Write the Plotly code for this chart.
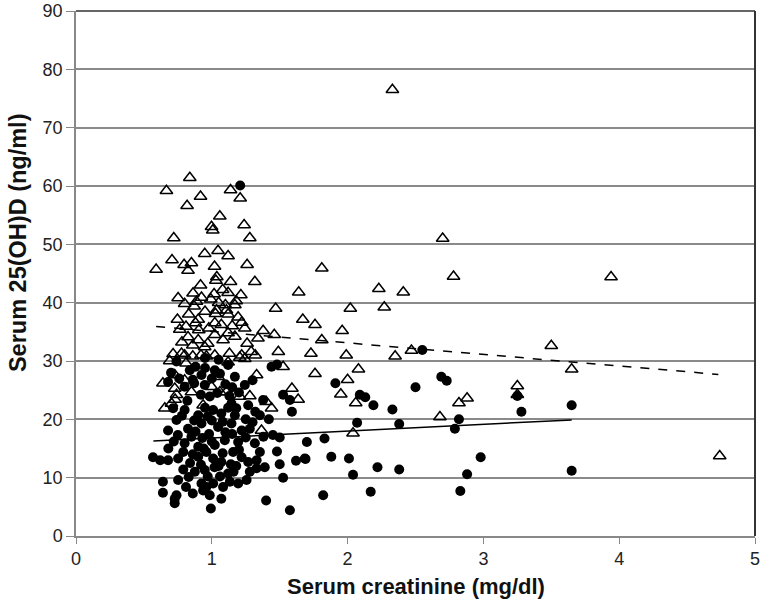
import plotly.graph_objects as go

# Open triangles
tri_x = [0.838,0.666,0.917,0.818,1.138,1.209,1.059,0.998,1.007,1.238,0.72,1.28,1.046,0.948,1.12,0.707,0.85,0.796,0.59,1.02,1.26,0.825,1.03,1.037,1.138,1.317,0.917,1.64,0.862,1.017,1.12,1.214,0.752,0.924,0.887,0.993,1.18,0.80,0.87,1.10,1.17,1.47,1.035,1.108,1.027,1.12,0.747,0.90,1.194,1.67,1.022,1.07,1.22,0.81,0.764,0.904,0.978,1.243,1.17,1.378,1.46,1.022,0.825,0.90,1.083,1.34,1.76,1.29,1.49,1.73,0.715,0.777,0.948,1.022,1.13,1.22,0.86,0.80,0.86,0.92,0.96,1.206,1.243,1.525,1.76,1.33,0.727,0.80,1.046,0.727,0.85,0.998,1.06,0.74,1.206,1.59,1.636,1.40,1.44,0.654,0.703,0.936,1.366,0.81,1.108,0.73,
         0.95,1.05,1.15,0.88,0.97,1.12,1.26,0.83,1.08,0.78,1.32,1.12,0.69,0.64,1.28,
         2.33,2.70,1.81,2.78,3.94,2.23,2.41,2.02,2.27,1.96,1.81,1.99,2.35,2.47,3.50,3.65,2.08,2.00,1.95,2.06,2.82,2.88,2.68,3.25,3.25,2.04,4.74]
tri_y = [61.4,59.2,58.2,56.6,59.3,57.9,54.8,53.0,52.4,53.3,51.1,51.1,48.9,48.4,48.0,47.3,46.8,46.5,45.7,46.2,46.5,45.5,43.8,44.4,43.6,43.6,43.0,41.8,41.6,41.5,41.7,41.3,40.8,40.9,40.2,40.6,40.3,39.8,39.4,39.6,39.6,39.0,38.7,38.7,38.1,38.0,37.1,37.1,37.5,37.1,36.5,36.2,36.6,35.9,35.4,35.3,35.6,35.6,34.2,35.2,34.5,34.5,34.1,33.6,33.6,33.9,36.2,31.6,31.6,31.3,31.2,31.3,32.4,31.0,31.3,31.0,32.7,31.0,30.8,31.0,30.8,30.6,30.4,29.0,27.8,27.6,27.6,26.7,27.3,25.3,24.7,25.6,24.7,24.2,23.9,25.3,23.4,23.0,21.9,21.9,22.7,22.4,18.1,29.6,24.7,23.4,
         38.5,40.0,36.0,36.5,33.0,34.8,33.0,38.0,42.2,33.2,31.0,29.8,30.0,26.2,24.0,
         76.5,51.0,45.9,44.5,44.4,42.4,41.8,39.0,39.2,35.2,33.6,31.0,30.8,31.8,32.6,28.6,28.6,26.8,24.3,22.8,22.8,23.6,20.4,25.7,24.2,17.6,13.7]

# Filled circles
cir_x = [1.209,2.55,2.69,2.73,2.50,1.91,2.09,2.13,2.19,2.33,3.65,3.25,3.28,2.07,2.38,2.82,2.79,1.70,1.83,1.69,1.88,2.01,2.04,2.22,2.38,2.98,2.88,3.65,1.82,2.17,2.83,
         0.74,1.44,1.48,0.678,0.838,0.924,1.022,1.12,1.17,1.243,1.30,0.948,0.80,1.525,1.575,1.59,1.378,1.354,0.985,1.145,1.268,0.715,0.80,0.90,1.01,1.17,0.74,0.678,0.825,0.924,1.046,1.145,1.22,1.28,1.45,1.50,0.80,0.90,1.022,1.096,1.194,1.317,
         0.567,0.678,0.752,0.79,0.90,0.96,1.01,1.07,1.157,1.268,1.33,1.354,1.39,1.33,0.79,0.875,0.948,1.12,1.50,1.525,1.62,1.685,0.64,0.64,0.752,0.81,0.86,0.924,0.936,0.985,1.01,1.07,1.083,1.133,1.194,1.256,0.727,0.727,0.74,0.993,1.40,1.575,
         0.95,1.05,0.88,1.00,1.10,0.87,1.04,1.13,0.95,1.07,0.87,0.98,1.10,0.85,1.20,0.93,1.05,1.18,0.97,1.28,0.84,1.00,1.25,1.12,
         0.70,0.76,0.86,0.95,1.06,1.15,1.20,0.92,0.82,0.78,0.97,1.08,1.18,1.32,0.88,1.00,1.15,1.25,0.94,1.08,0.86,1.22,1.02,1.14,0.92,0.83,1.06,0.96,1.16,0.72,0.68,0.75,1.38,1.30,1.42,1.48,0.62]
cir_y = [60.1,31.9,27.3,26.6,25.5,26.2,24.2,23.8,22.4,21.7,22.4,24.0,21.3,19.4,19.2,20.0,18.4,16.1,16.7,13.2,13.6,13.3,10.5,11.8,11.4,13.5,10.6,11.2,7.0,7.6,7.7,
         29.9,29.0,29.4,26.4,28.4,27.6,28.4,29.3,27.3,25.9,26.7,25.9,25.6,24.2,23.3,21.3,23.3,20.7,23.9,22.7,22.4,21.9,21.6,20.7,21.6,20.7,19.9,18.1,18.4,19.3,18.7,19.3,18.1,18.4,17.3,16.9,15.9,15.3,15.6,16.4,16.1,15.9,
         13.5,13.0,13.3,14.4,13.6,14.4,13.3,12.7,14.4,12.7,13.0,14.4,11.8,11.6,11.4,11.0,11.3,10.7,12.3,10.0,12.9,13.3,9.3,7.4,9.6,8.4,7.3,9.0,7.8,7.0,9.0,6.4,8.4,9.3,9.0,9.6,6.4,5.6,7.0,4.7,6.1,4.4,
         30.5,30.2,29.0,27.0,26.0,26.2,24.5,24.0,22.0,21.0,19.8,17.5,17.8,17.0,14.8,16.8,12.0,12.0,10.2,11.0,12.5,19.8,20.0,22.0,
         28.0,27.0,26.8,28.8,27.8,25.5,24.6,24.2,23.2,20.6,20.5,19.6,21.9,21.3,17.9,16.2,17.5,16.9,15.0,14.2,14.0,13.5,11.8,12.3,12.2,10.1,10.2,8.4,11.0,16.2,15.0,17.3,17.0,19.5,20.0,14.5,13.0]

# Trend lines (end points)
trend_tri_x = [0.59, 4.73]
trend_tri_y = [35.9, 27.7]
trend_cir_x = [0.57, 3.65]
trend_cir_y = [16.3, 19.9]

x_ticks = [0, 1, 2, 3, 4, 5]
y_ticks = [0, 10, 20, 30, 40, 50, 60, 70, 80, 90]
x_title = "Serum creatinine (mg/dl)"
y_title = "Serum 25(OH)D (ng/ml)"

FONT = "Liberation Sans, Arial, sans-serif"

fig = go.Figure()
fig.add_trace(go.Scatter(x=cir_x, y=cir_y, mode="markers",
                         marker=dict(symbol="circle", size=10, color="black", line=dict(width=0)),
                         showlegend=False))
fig.add_trace(go.Scatter(x=tri_x, y=tri_y, mode="markers",
                         marker=dict(symbol="triangle-up-open", size=11, color="black", line=dict(width=1.5)),
                         showlegend=False))
fig.add_trace(go.Scatter(x=trend_tri_x, y=trend_tri_y, mode="lines",
                         line=dict(color="black", width=1.5, dash="dash"), showlegend=False))
fig.add_trace(go.Scatter(x=trend_cir_x, y=trend_cir_y, mode="lines",
                         line=dict(color="black", width=1.5), showlegend=False))

# frame (top and right)
fig.add_shape(type="line", xref="paper", yref="paper", x0=1, x1=1, y0=0, y1=1, line=dict(color="#333", width=2))
fig.add_shape(type="line", xref="paper", yref="paper", x0=0, x1=1, y0=1, y1=1, line=dict(color="#333", width=1.5))

fig.add_annotation(text="<b>%s</b>" % x_title, xref="paper", yref="paper", x=0.50, y=0,
                   yshift=-50, xanchor="center", yanchor="middle", showarrow=False,
                   font=dict(size=22, family=FONT, color="#111"))
fig.add_annotation(text="<b>%s</b>" % y_title, xref="paper", yref="paper", x=0, y=0.558,
                   xshift=-58, xanchor="center", yanchor="middle", textangle=-90, showarrow=False,
                   font=dict(size=23.5, family=FONT, color="#111"))

fig.update_layout(
    width=763, height=600,
    margin=dict(l=76, r=8, t=11, b=64),
    paper_bgcolor="white", plot_bgcolor="white",
    font=dict(family=FONT, size=18, color="#222"),
    xaxis=dict(range=[0, 5], tickvals=x_ticks, ticks="outside", ticklen=6, tickcolor="#888",
               showline=True, linecolor="#888", linewidth=1.5, showgrid=False, zeroline=False,
               automargin=False),
    yaxis=dict(range=[0, 90], tickvals=y_ticks, ticks="outside", ticklen=8, tickcolor="#888",
               showline=True, linecolor="#888", linewidth=1.5, showgrid=True, gridcolor="#8a8a8a", gridwidth=1.5,
               zeroline=False, automargin=False),
)

fig.write_html("out.html", config={"displayModeBar": False},
               post_script="document.body.style.margin='0';")
